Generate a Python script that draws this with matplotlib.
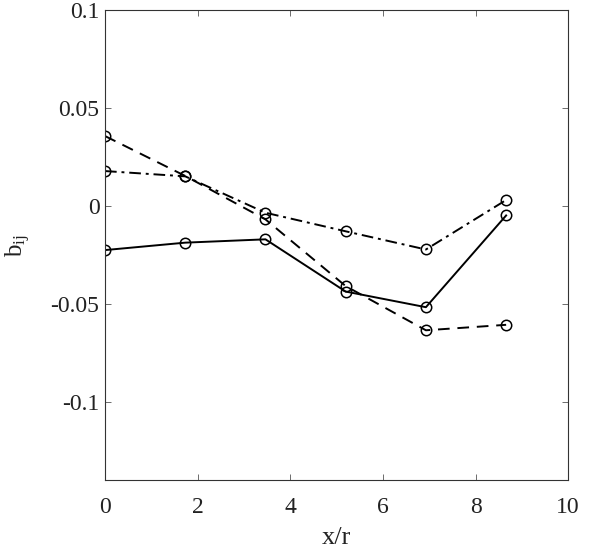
import numpy as np
import matplotlib
matplotlib.use('Agg')
import matplotlib.pyplot as plt

plt.rcParams['font.family'] = ['Liberation Serif', 'DejaVu Serif']
plt.rcParams['mathtext.fontset'] = 'custom'
plt.rcParams['mathtext.rm'] = 'Liberation Serif'
plt.rcParams['mathtext.it'] = 'Liberation Serif'

# положения по x/r
x = [0, 1.732, 3.464, 5.196, 6.928, 8.66]

# три ряда b_ij
b_solid = [-0.0225, -0.0187, -0.0170, -0.0437, -0.0517, -0.0048]
b_dashed = [0.0358, 0.0154, -0.0068, -0.0409, -0.0635, -0.0607]
b_dashdot = [0.0179, 0.0152, -0.0034, -0.0129, -0.0222, 0.0031]

fig = plt.figure(figsize=(6, 5.51), dpi=100)
ax = fig.add_axes([0.175, 0.129, 0.772, 0.852])

style = dict(color='black', marker='o', markersize=7.5, markerfacecolor='none',
             markeredgewidth=1.1, linewidth=1.4)
ax.plot(x, b_solid, linestyle='-', **style)
ax.plot(x, b_dashed, linestyle=(0, (6, 4)), **style)
ax.plot(x, b_dashdot, linestyle=(0, (6, 2.5, 1.5, 2.5)), **style)

ax.set_xlim(0, 10)
ax.set_ylim(-0.14, 0.1)
ax.set_xticks([0, 2, 4, 6, 8, 10])
ax.set_yticks([-0.1, -0.05, 0, 0.05, 0.1])
ax.set_yticklabels(['-0.1', '-0.05', '0', '0.05', '0.1'])

for s in ax.spines.values():
    s.set_color('#333333')
    s.set_linewidth(0.8)
ax.tick_params(direction='in', top=True, right=True, labelsize=17,
               length=4, width=0.6, color='#555555', labelcolor='#222222')
ax.tick_params(axis='x', pad=12)
ax.tick_params(axis='y', pad=4)

ax.set_xlabel('x/r', fontsize=19, labelpad=7, color='#222222')
ax.set_ylabel(r'b$_{\mathrm{ij}}$', fontsize=18, labelpad=13, color='#222222')

fig.savefig('out.png', dpi=100)
